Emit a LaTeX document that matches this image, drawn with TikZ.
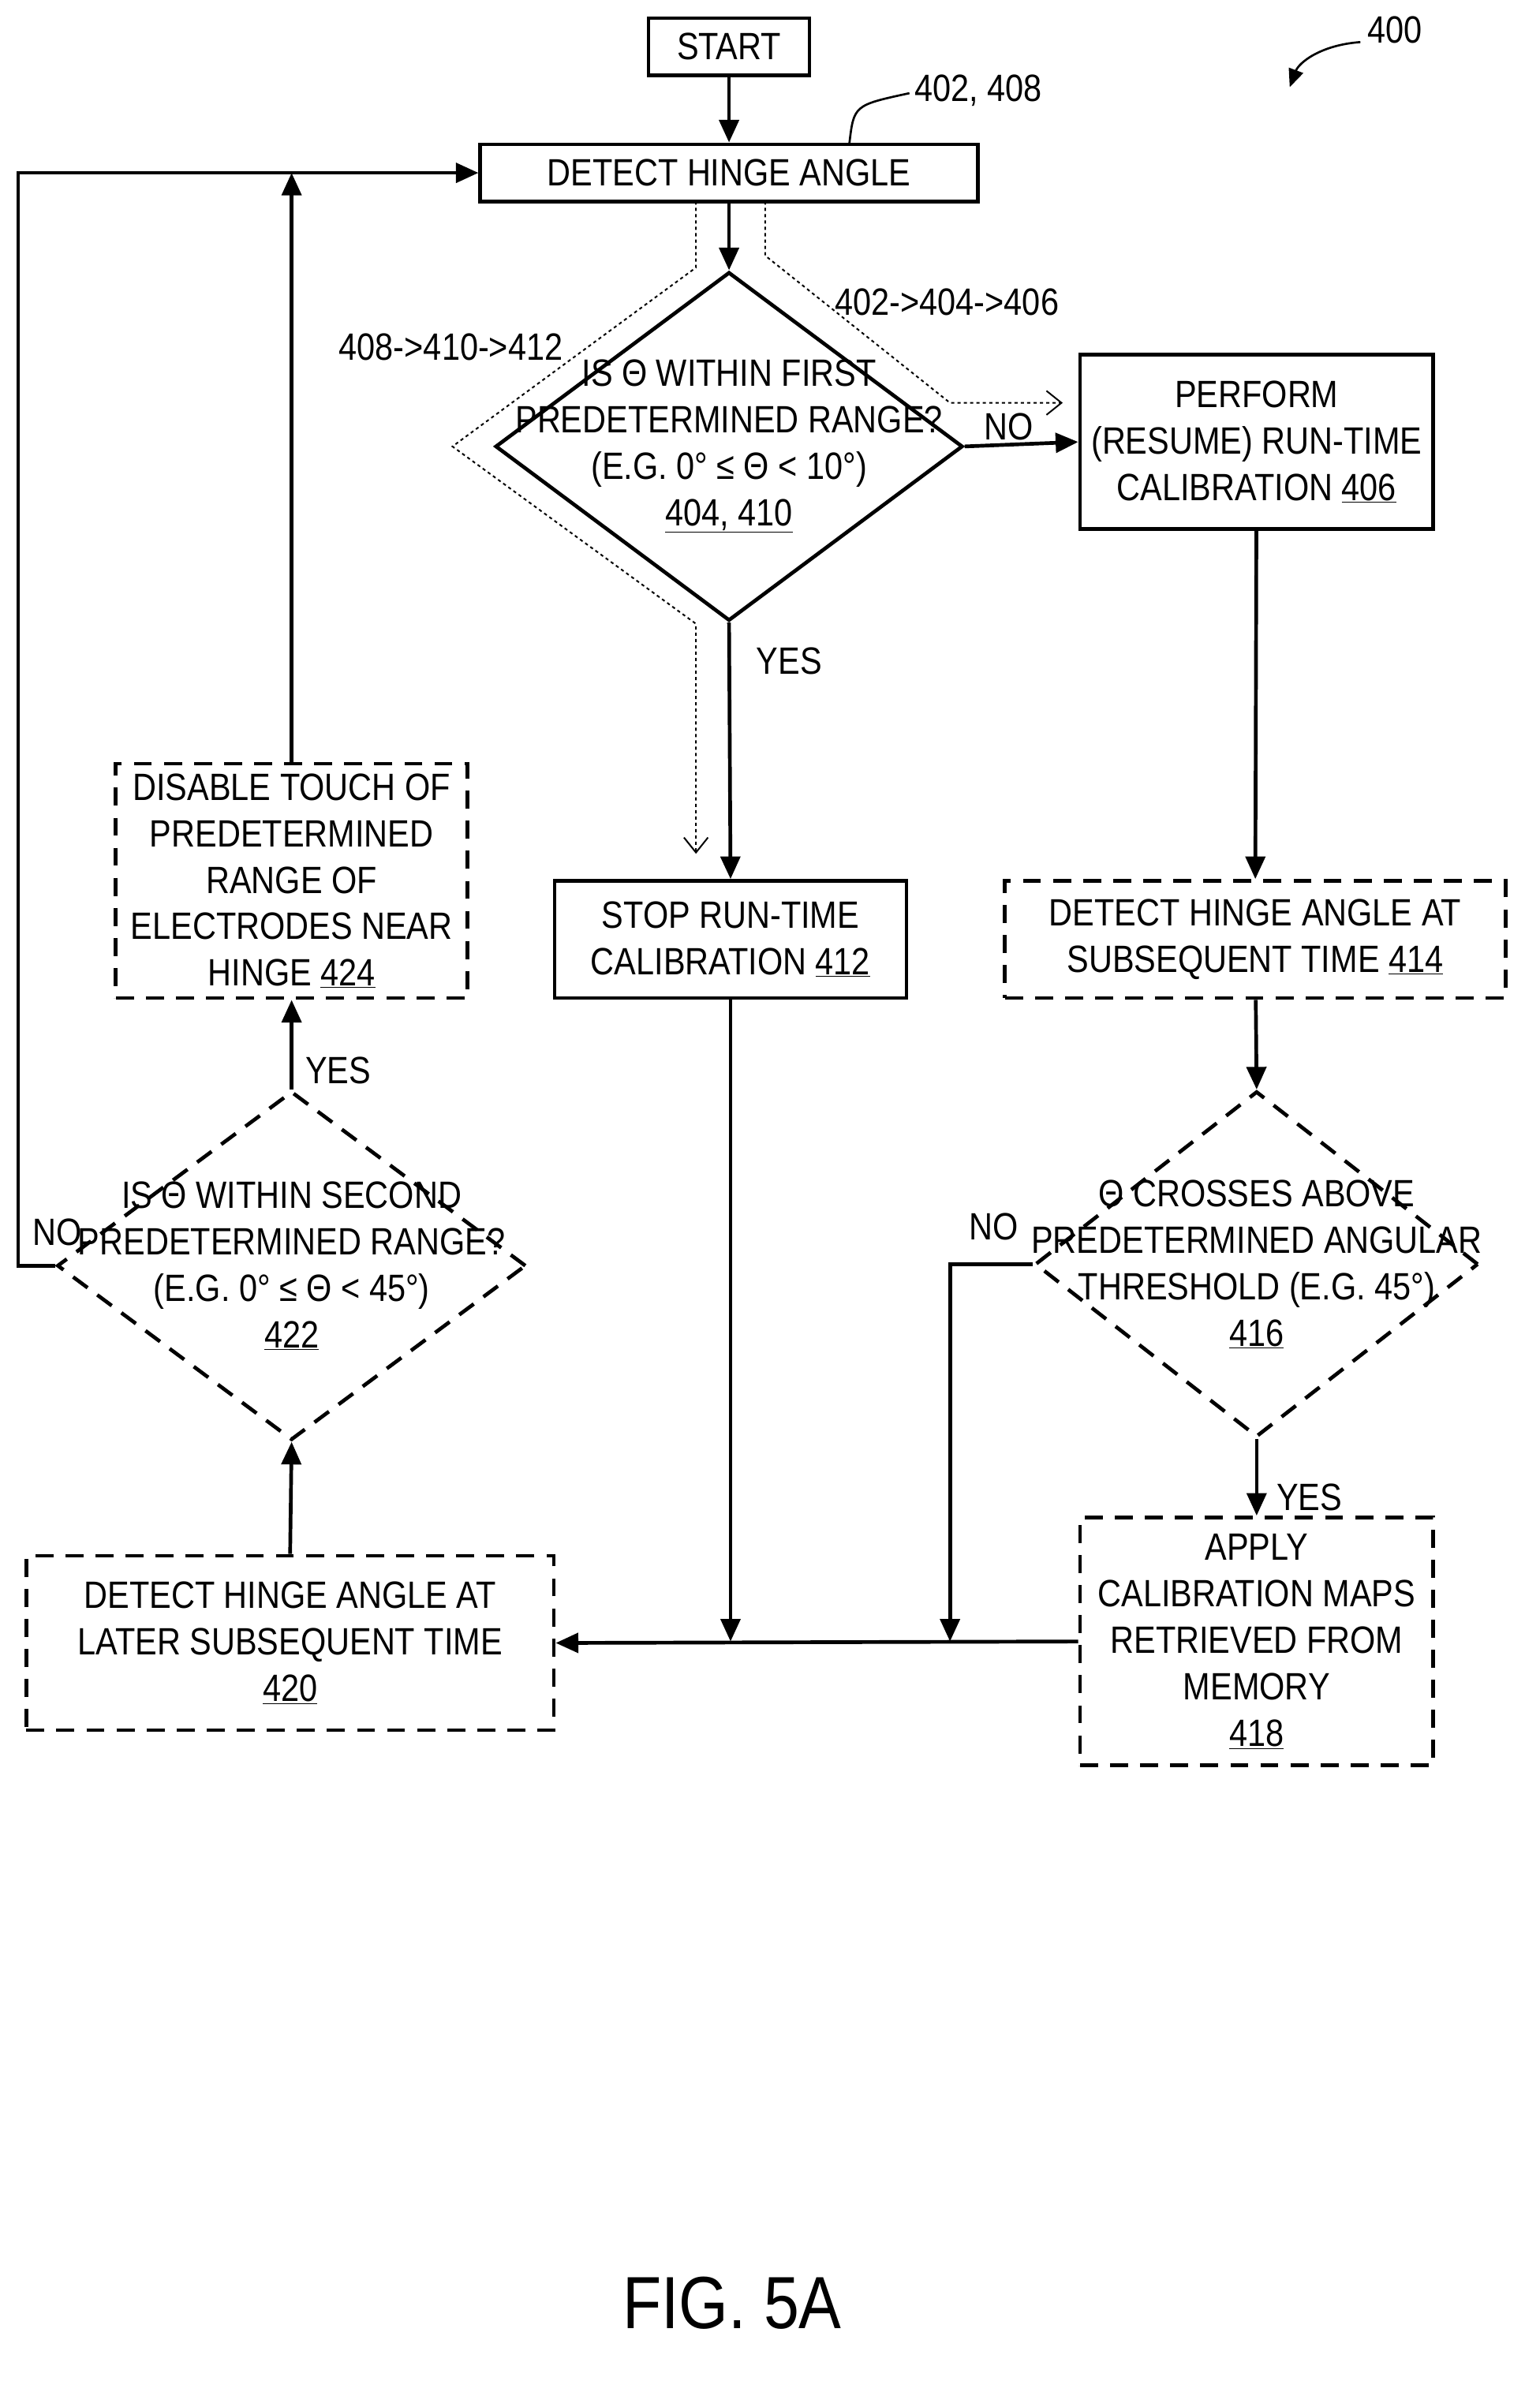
\documentclass[tikz,border=0pt]{standalone}
\usepackage{fontspec}
\setmainfont{Liberation Sans}[FakeStretch=0.86]
\usetikzlibrary{positioning,arrows.meta,shapes.geometric}

\begin{document}
\begin{tikzpicture}[x=0.05cm, y=-0.05cm,
    every node/.style={font=\fontsize{36}{44}\selectfont},
    box/.style={rectangle, draw, line width=3.5pt, align=center, inner sep=0pt},
    dbox/.style={box, dash pattern=on 0.6cm off 0.4cm},
    dia/.style={diamond, draw, line width=3.5pt, inner sep=0pt},
    ddia/.style={dia, dash pattern=on 0.6cm off 0.4cm},
    txt/.style={align=center, inner sep=0pt},
    flow/.style={line width=3.5pt, -{Triangle[length=0.75cm,width=0.65cm]}},
    line/.style={line width=3.5pt},
    path/.style={line width=1.5pt, dash pattern=on 3pt off 3pt, -{Straight Barb[open,length=0.5cm,width=0.8cm]}}
    ]
    \useasboundingbox (0,0) rectangle (1024,1584);
    %Nodes
    \node[box, minimum width=5.35cm, minimum height=1.9cm]
        (start) at (485,31) {START};
    \node[box, minimum width=16.55cm, minimum height=1.9cm]
        (detect) at (485,115) {DETECT HINGE ANGLE};
    \node[dia, minimum width=15.55cm, minimum height=11.6cm]
        (first) at (485,297) {};
    \node[txt] at (first) {IS \symbol{"0398} WITHIN FIRST\\PREDETERMINED RANGE?\\(E.G. 0° ≤ \symbol{"0398} < 10°)\\\underline{404, 410}};
    \node[box, minimum width=11.75cm, minimum height=5.8cm]
        (perform) at (836,294) {PERFORM\\(RESUME) RUN-TIME\\CALIBRATION \underline{406}};
    \node[box, minimum width=11.7cm, minimum height=3.9cm]
        (stop) at (486,625) {STOP RUN-TIME\\CALIBRATION \underline{412}};
    \node[dbox, minimum width=16.65cm, minimum height=3.9cm]
        (later) at (835,625) {DETECT HINGE ANGLE AT\\SUBSEQUENT TIME \underline{414}};
    \node[ddia, minimum width=14.75cm, minimum height=11.5cm]
        (thresh) at (836,841) {};
    \node[txt] at (thresh) {\symbol{"0398} CROSSES ABOVE\\PREDETERMINED ANGULAR\\THRESHOLD (E.G. 45°)\\\underline{416}};
    \node[dbox, minimum width=11.75cm, minimum height=8.25cm]
        (apply) at (836,1092) {APPLY\\CALIBRATION MAPS\\RETRIEVED FROM\\MEMORY\\\underline{418}};
    \node[dbox, minimum width=17.55cm, minimum height=5.8cm]
        (latest) at (193,1093) {DETECT HINGE ANGLE AT\\LATER SUBSEQUENT TIME\\\underline{420}};
    \node[ddia, minimum width=15.6cm, minimum height=11.6cm]
        (second) at (194,842) {};
    \node[txt] at (second) {IS \symbol{"0398} WITHIN SECOND\\PREDETERMINED RANGE?\\(E.G. 0° ≤ \symbol{"0398} < 45°)\\\underline{422}};
    \node[dbox, minimum width=11.7cm, minimum height=7.8cm]
        (disable) at (194,586) {DISABLE TOUCH OF\\PREDETERMINED\\RANGE OF\\ELECTRODES NEAR\\HINGE \underline{424}};
    \node[txt] (fig) at (487,1532) {\fontsize{70}{80}\selectfont FIG. 5A};
    \node[txt] (ref400) at (928,20) {400};
    \node[txt] (ref402) at (651,60) {402, 408};
    \node[txt] (no1) at (671,284) {NO};
    \node[txt] (yes1) at (525,440) {YES};
    \node[txt] (no2) at (661,816) {NO};
    \node[txt] (yes2) at (871,996) {YES};
    \node[txt] (yes3) at (225,712) {YES};
    \node[txt] (no3) at (38,820) {NO};
    \coordinate (join) at (632,1092);
    \coordinate (stopin) at (486,1092);
    \coordinate (loop) at (12,842);

    %Lines
    \draw[flow] (start) -- (detect);
    \draw[flow] (detect) -- (first);
    \draw[flow] (first.east) -- (perform.west);
    \draw[flow] (first.south) -- (stop.north);
    \draw[flow] (perform) -- (later);
    \draw[flow] (later) -- (thresh.north);
    \draw[flow] (thresh.south) -- (apply.north);
    \draw[flow] (thresh.west) -- (thresh.west -| join) -- (join);
    \draw[flow] (stop.south) -- (stopin);
    \draw[flow] (apply.west) -- (latest.east);
    \draw[flow] (latest.north) -- (second.south);
    \draw[flow] (second.north) -- (disable.south);
    \draw[flow] (disable.north) -- (disable.north |- detect.west);
    \draw[flow] (second.west) -- (loop) -- (loop |- detect.west) -- (detect.west);

    %Paths
    \draw[path] (463,134) -- (463,178) -- (301,297) -- (463,415) -- (463,568);
    \draw[path] (509,134) -- (509,170) -- (632,268) -- (707,268);
    \node[txt] (p402) at (630,201) {402->404->406};
    \node[txt] (p408) at (300,231) {408->410->412};

    %Leaders
    \draw[line, line width=2pt] (565,96) .. controls (568,70) .. (605,62);
    \draw[line, line width=2pt, -{Triangle[length=0.6cm,width=0.5cm]}] (905,28) .. controls (878,30) and (864,42) .. (858,58);
\end{tikzpicture}
\end{document}
